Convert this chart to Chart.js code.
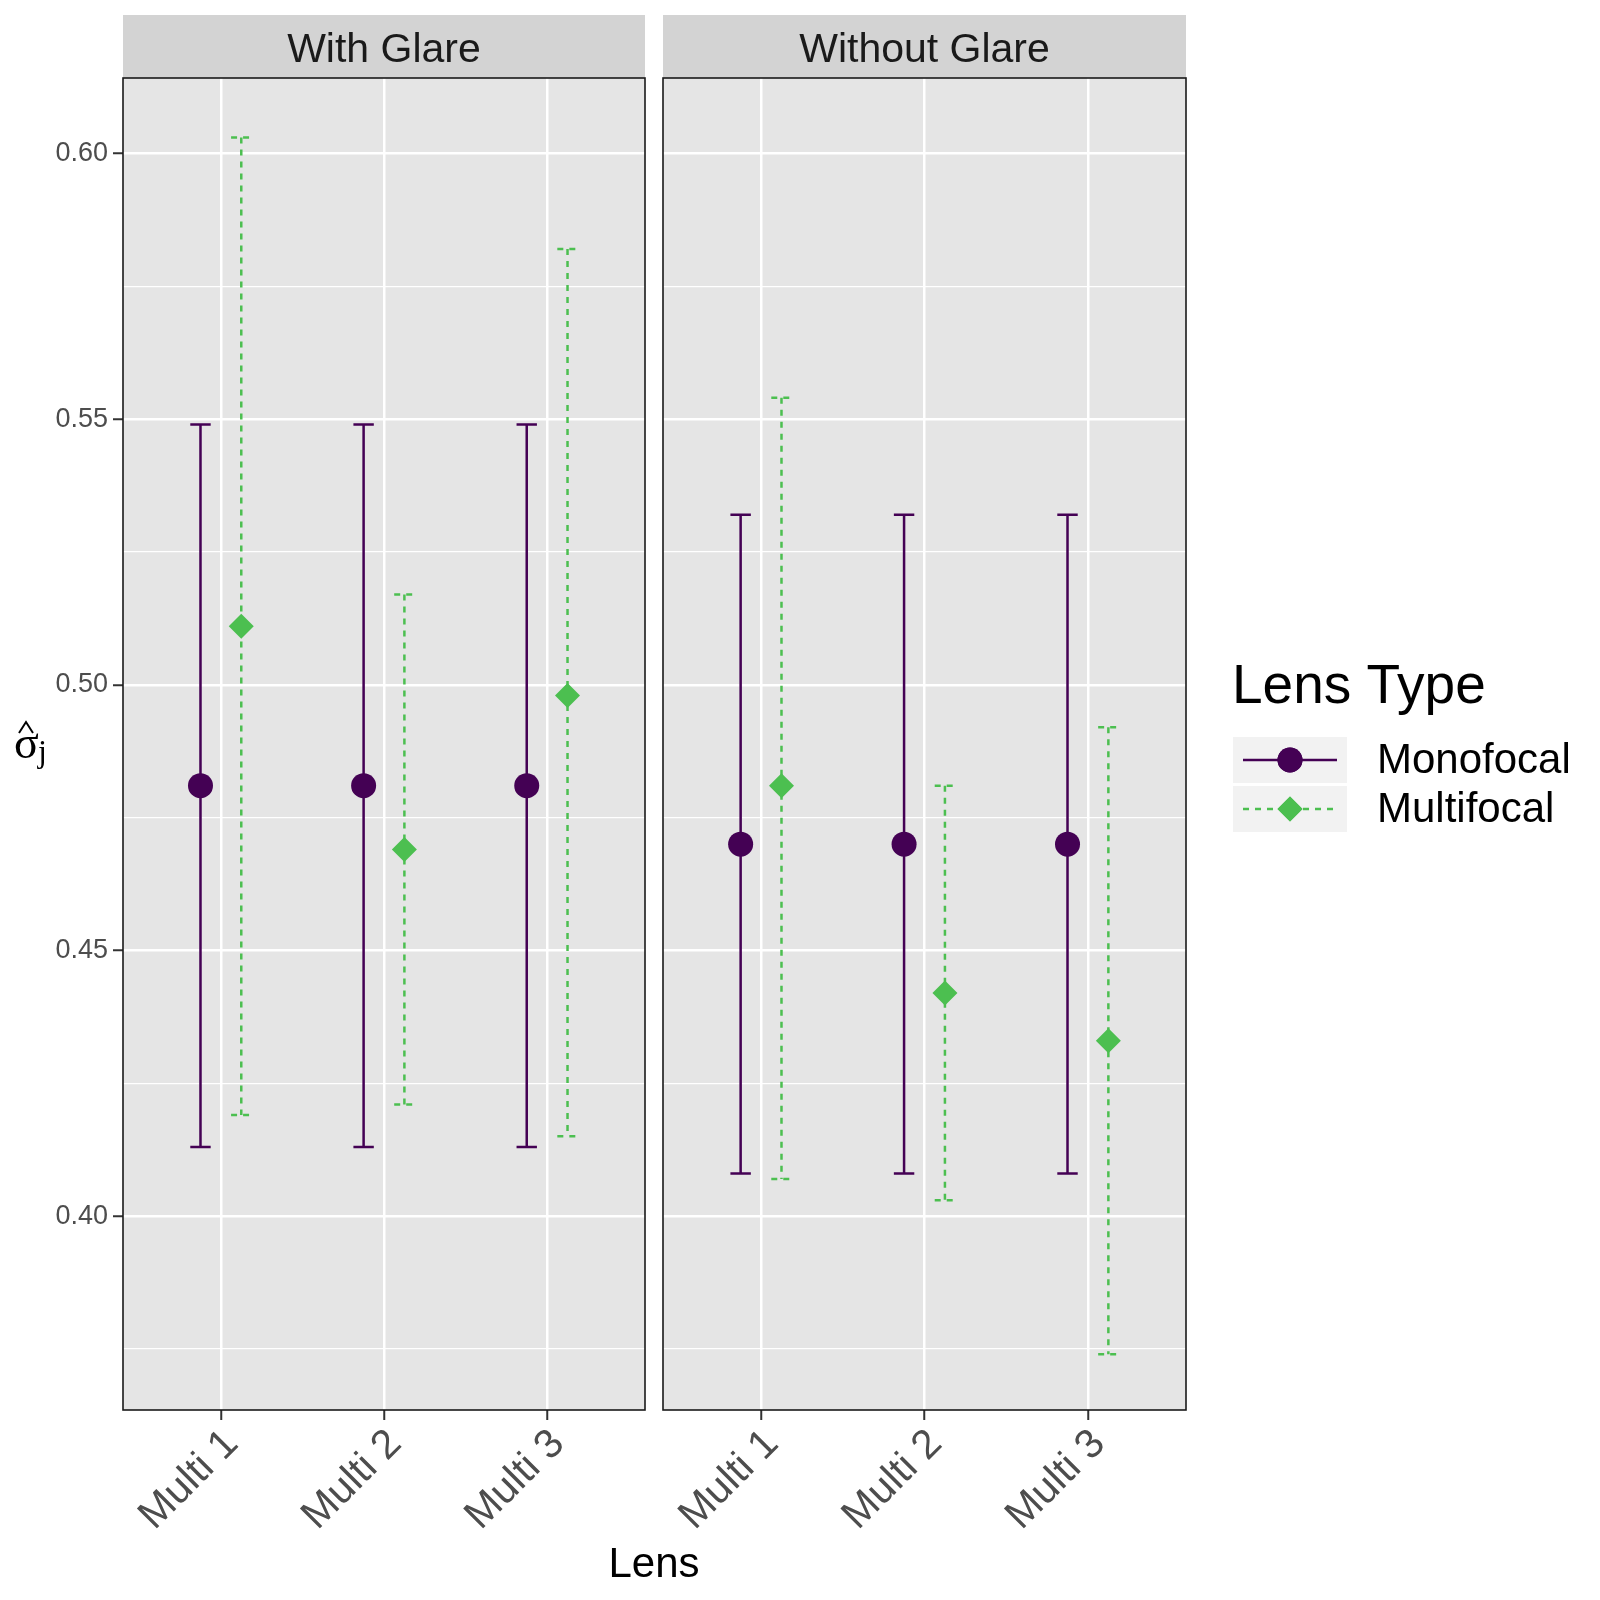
<!DOCTYPE html>
<html>
<head>
<meta charset="utf-8">
<script src="https://cdn.jsdelivr.net/npm/chart.js@4.4.1/dist/chart.umd.min.js"></script>
<style>
  body { margin: 0; background: #fff; }
  #wrap { position: relative; width: 1600px; height: 1600px; }
  canvas { position: absolute; left: 0; top: 0; }
</style>
</head>
<body>
<div id="wrap">
  <canvas id="glare" width="1600" height="1600"></canvas>
  <canvas id="noGlare" width="1600" height="1600"></canvas>
</div>
<script>
const lenses = ["Multi 1", "Multi 2", "Multi 3"];
const panels = ["With Glare", "Without Glare"];
const seriesNames = ["Monofocal", "Multifocal"];
// values indexed [panel][lens]
const monoEst = [[0.481, 0.481, 0.481], [0.470, 0.470, 0.470]];
const monoLow = [[0.413, 0.413, 0.413], [0.408, 0.408, 0.408]];
const monoHigh = [[0.549, 0.549, 0.549], [0.532, 0.532, 0.532]];
const multiEst = [[0.511, 0.469, 0.498], [0.481, 0.442, 0.433]];
const multiLow = [[0.419, 0.421, 0.415], [0.407, 0.403, 0.374]];
const multiHigh = [[0.603, 0.517, 0.582], [0.554, 0.481, 0.492]];
const yMajor = [0.40, 0.45, 0.50, 0.55, 0.60];
const yMinor = [0.375, 0.425, 0.475, 0.525, 0.575];

const monoColor = "#440154";
const multiColor = "#4CBF50";
const dodge = 0.125;
const capHalf = 0.0625;
const font = '"Liberation Sans", Arial, Helvetica, sans-serif';

const isMajor = v => yMajor.some(m => Math.abs(m - v) < 1e-9);

function errorBar(ctx, xs, ys, x, lo, hi) {
    const px = xs.getPixelForValue(x);
    const w = xs.getPixelForValue(x + capHalf) - px;
    const top = ys.getPixelForValue(hi);
    const bot = ys.getPixelForValue(lo);
    ctx.beginPath();
    ctx.moveTo(px - w, top); ctx.lineTo(px + w, top);
    ctx.moveTo(px, top); ctx.lineTo(px, bot);
    ctx.moveTo(px - w, bot); ctx.lineTo(px + w, bot);
    ctx.stroke();
}

const panelPlugin = {
    id: "panel",
    beforeDraw(chart, args, opts) {
        const { ctx, chartArea: a } = chart;
        ctx.save();
        ctx.fillStyle = "#E5E5E5";
        ctx.fillRect(a.left, a.top, a.right - a.left, a.bottom - a.top);
        ctx.fillStyle = "#D3D3D3";
        ctx.fillRect(a.left, 15, a.right - a.left, a.top - 15);
        ctx.fillStyle = "#1A1A1A";
        ctx.font = "41px " + font;
        ctx.textAlign = "center";
        ctx.textBaseline = "middle";
        ctx.fillText(panels[opts.p], (a.left + a.right) / 2, (15 + a.top) / 2 + 4);
        ctx.restore();
    },
    beforeDatasetsDraw(chart, args, opts) {
        const { ctx } = chart;
        const xs = chart.scales.x, ys = chart.scales.y;
        const p = opts.p;
        ctx.save();
        ctx.lineWidth = 2.5;
        ctx.strokeStyle = monoColor;
        lenses.forEach((l, i) => errorBar(ctx, xs, ys, i + 1 - dodge, monoLow[p][i], monoHigh[p][i]));
        ctx.strokeStyle = multiColor;
        ctx.setLineDash([6, 6]);
        lenses.forEach((l, i) => errorBar(ctx, xs, ys, i + 1 + dodge, multiLow[p][i], multiHigh[p][i]));
        ctx.restore();
    },
    afterDraw(chart, args, opts) {
        const { ctx, chartArea: a } = chart;
        ctx.save();
        ctx.strokeStyle = "#1A1A1A";
        ctx.lineWidth = 1.6;
        ctx.strokeRect(a.left, a.top, a.right - a.left, a.bottom - a.top);
        ctx.restore();
        if (opts.p === 1) drawExtras(ctx);
    }
};

function drawExtras(ctx) {
    ctx.save();
    // x axis title
    ctx.fillStyle = "#000";
    ctx.font = "42px " + font;
    ctx.textAlign = "center";
    ctx.textBaseline = "alphabetic";
    ctx.fillText("Lens", 654, 1577);

    // y axis title: sigma hat, subscript j
    ctx.font = "46px \"Liberation Serif\", serif";
    ctx.textAlign = "left";
    ctx.fillText("σ", 14, 758);
    ctx.font = "32px \"Liberation Serif\", serif";
    ctx.fillText("j", 38, 762);
    ctx.strokeStyle = "#000";
    ctx.lineWidth = 2;
    ctx.beginPath();
    ctx.moveTo(19, 733); ctx.lineTo(26, 722); ctx.lineTo(33, 733);
    ctx.stroke();

    // legend
    ctx.font = "55px " + font;
    ctx.fillText("Lens Type", 1232, 703);
    const keys = [
        { y: 737, color: monoColor, dash: [], style: "circle" },
        { y: 786, color: multiColor, dash: [6, 6], style: "rectRot" }
    ];
    keys.forEach((k, i) => {
        ctx.fillStyle = "#F2F2F2";
        ctx.fillRect(1233, k.y, 114, 46);
        const cy = k.y + 23;
        ctx.strokeStyle = k.color;
        ctx.lineWidth = 2.5;
        ctx.setLineDash(k.dash);
        ctx.beginPath();
        ctx.moveTo(1243, cy); ctx.lineTo(1337, cy);
        ctx.stroke();
        ctx.setLineDash([]);
        ctx.fillStyle = k.color;
        Chart.helpers.drawPoint(ctx, { pointStyle: k.style, radius: 12.5, borderWidth: 0 }, 1290, cy);
        ctx.fill();
        ctx.fillStyle = "#000";
        ctx.font = "42px " + font;
        ctx.textBaseline = "middle";
        ctx.fillText(seriesNames[i], 1377, cy + 1);
        ctx.textBaseline = "alphabetic";
    });
    ctx.restore();
}

function makeChart(id, p) {
    const first = p === 0;
    return new Chart(document.getElementById(id), {
        type: "scatter",
        data: {
            datasets: [
                {
                    label: seriesNames[0],
                    data: monoEst[p].map((y, i) => ({ x: i + 1 - dodge, y })),
                    pointStyle: "circle",
                    pointRadius: 12.5,
                    backgroundColor: monoColor,
                    borderColor: monoColor,
                    borderWidth: 0
                },
                {
                    label: seriesNames[1],
                    data: multiEst[p].map((y, i) => ({ x: i + 1 + dodge, y })),
                    pointStyle: "rectRot",
                    pointRadius: 12.5,
                    backgroundColor: multiColor,
                    borderColor: multiColor,
                    borderWidth: 0
                }
            ]
        },
        options: {
            responsive: false,
            animation: false,
            devicePixelRatio: 1,
            layout: {
                padding: first
                    ? { left: 0, top: 78, right: 955, bottom: 0 }
                    : { left: 663, top: 78, right: 414, bottom: 0 }
            },
            plugins: {
                legend: { display: false },
                tooltip: { enabled: false },
                panel: { p }
            },
            scales: {
                x: {
                    type: "linear",
                    min: 0.4,
                    max: 3.6,
                    afterBuildTicks: s => { s.ticks = lenses.map((l, i) => ({ value: i + 1 })); },
                    afterFit: s => { s.height = 190; s.paddingLeft = 0; s.paddingRight = 0; },
                    ticks: {
                        autoSkip: false,
                        minRotation: 45,
                        maxRotation: 45,
                        padding: 0,
                        labelOffset: 11,
                        color: "#4D4D4D",
                        font: { family: font, size: 41 },
                        callback: v => lenses[Math.round(v) - 1]
                    },
                    grid: { color: "#FFFFFF", lineWidth: 2.5, tickColor: "#333333", tickLength: 10, tickWidth: 2 },
                    border: { display: false }
                },
                y: {
                    min: 0.3635,
                    max: 0.6142,
                    afterBuildTicks: s => {
                        s.ticks = yMinor.concat(yMajor).sort((a, b) => a - b).map(v => ({ value: v }));
                    },
                    afterFit: s => { s.width = first ? 123 : 0; },
                    ticks: {
                        display: first,
                        autoSkip: false,
                        padding: 5,
                        color: "#4D4D4D",
                        font: { family: font, size: 27 },
                        callback: v => (isMajor(v) ? v.toFixed(2) : "")
                    },
                    grid: {
                        color: "#FFFFFF",
                        lineWidth: c => (isMajor(c.tick.value) ? 2.5 : 1.2),
                        drawTicks: first,
                        tickLength: 10,
                        tickWidth: 2,
                        tickColor: c => (isMajor(c.tick.value) ? "#333333" : "rgba(0,0,0,0)")
                    },
                    border: { display: false }
                }
            }
        },
        plugins: [panelPlugin]
    });
}

makeChart("glare", 0);
makeChart("noGlare", 1);
</script>
</body>
</html>
